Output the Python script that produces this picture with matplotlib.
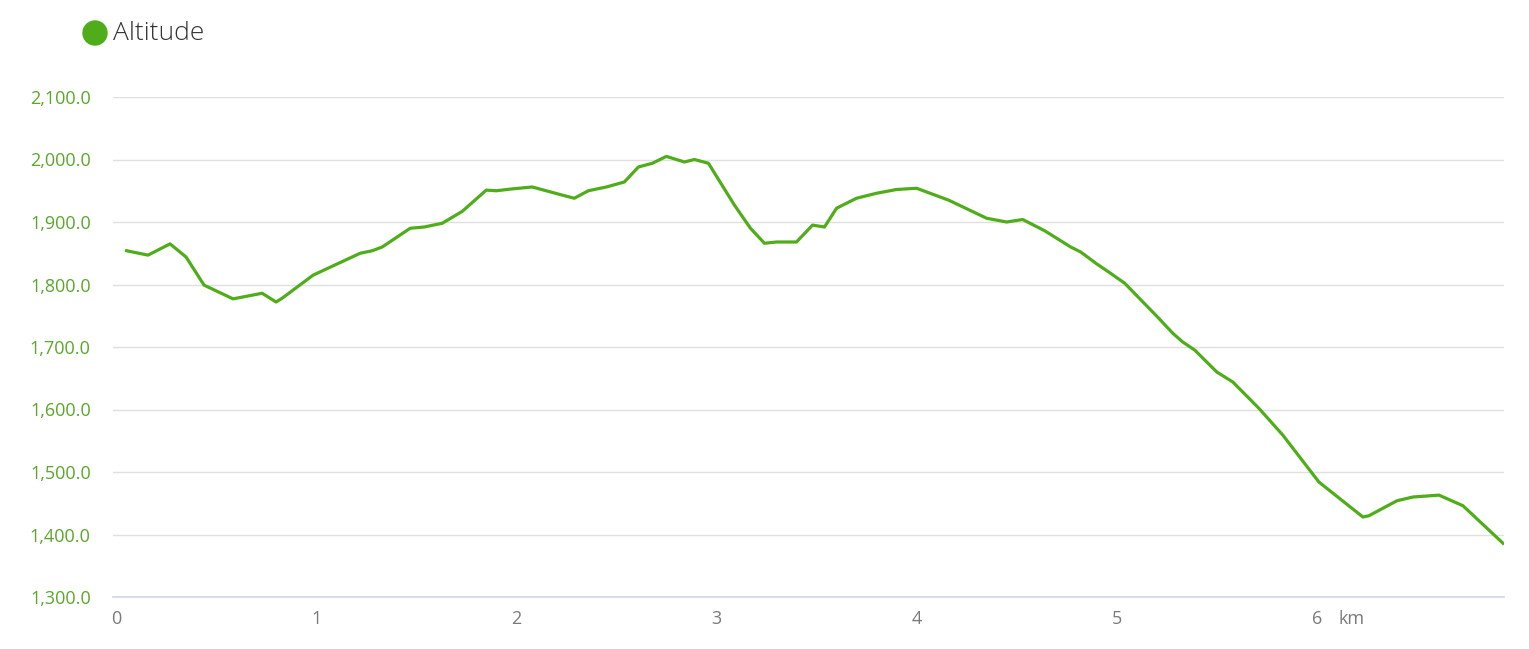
import matplotlib
matplotlib.use("Agg")
import matplotlib.pyplot as plt
from matplotlib.ticker import FuncFormatter

# Data (distance km, altitude m)
distance_km = [0.053, 0.16, 0.27, 0.35, 0.44, 0.585, 0.73, 0.80, 0.83, 0.985, 1.22, 1.28, 1.33,
               1.47, 1.54, 1.63, 1.73, 1.85, 1.90, 1.98, 2.08, 2.23, 2.29, 2.36, 2.45, 2.54,
               2.61, 2.68, 2.75, 2.84, 2.89, 2.96, 3.09, 3.17, 3.24, 3.30, 3.40, 3.48, 3.54,
               3.60, 3.70, 3.80, 3.90, 4.00, 4.16, 4.35, 4.45, 4.53, 4.64, 4.77, 4.82, 4.90,
               4.96, 5.04, 5.21, 5.28, 5.33, 5.39, 5.50, 5.58, 5.71, 5.83, 6.01, 6.23, 6.26,
               6.40, 6.48, 6.61, 6.73, 6.77, 6.93]
altitude_m = [1854, 1847, 1865, 1844, 1799, 1777, 1786, 1772, 1778, 1815, 1850, 1854, 1860,
              1890, 1892, 1898, 1917, 1951, 1950, 1953, 1956, 1943, 1938, 1950, 1956, 1964,
              1988, 1994, 2005, 1996, 2000, 1994, 1927, 1890, 1866, 1868, 1868, 1895, 1892,
              1922, 1938, 1946, 1952, 1954, 1935, 1906, 1900, 1904, 1886, 1860, 1852, 1833,
              1820, 1802, 1746, 1722, 1708, 1695, 1660, 1644, 1602, 1559, 1484, 1428, 1430,
              1454, 1460, 1463, 1446, 1434, 1386]
y_ticks = [1300, 1400, 1500, 1600, 1700, 1800, 1900, 2000, 2100]
x_ticks = [0, 1, 2, 3, 4, 5, 6]
series_name = "Altitude"

GREEN = "#4fad1a"
plt.rcParams['font.family'] = ['Open Sans', 'DejaVu Sans']

fig = plt.figure(figsize=(15.29, 6.49), dpi=100)
ax = fig.add_axes([113/1529, 1-597/649, (1504-113)/1529, 500/649])

ax.plot(distance_km, altitude_m, color=GREEN, lw=2.3, solid_joinstyle='round', zorder=3)

ax.set_xlim(-0.015, 6.935)
ax.set_ylim(1300, 2100)
ax.set_yticks(y_ticks)
ax.set_xticks(x_ticks)
ax.yaxis.set_major_formatter(FuncFormatter(lambda v, p: f"{v:,.1f}"))
ax.grid(axis='y', color='#e0e0e0', lw=1.0, zorder=0)
for s in ['top', 'right', 'left']:
    ax.spines[s].set_visible(False)
ax.spines['bottom'].set_color('#ccd6eb')
ax.spines['bottom'].set_linewidth(1.2)
ax.tick_params(axis='y', length=0, pad=16, labelsize=13, labelcolor='#5aa82a')
ax.tick_params(axis='x', length=0, pad=9, labelsize=13, labelcolor='#7a7a7a')
km_label = ax.text(6.11, 0, "km", transform=ax.get_xaxis_transform(), color='#7a7a7a',
                   fontsize=13, ha='left', va='top')
from matplotlib.transforms import offset_copy
km_label.set_transform(offset_copy(ax.get_xaxis_transform(), fig=fig, x=0, y=-9, units='points'))

# legend
fig.patches.append(matplotlib.patches.Ellipse((95/1529, 1-33/649), 24/1529, 24/649,
                                              transform=fig.transFigure, color=GREEN))
fig.text(113/1529, 1-34/649, series_name, fontsize=19, color='#333333', fontweight='light',
         ha='left', va='center')

fig.savefig("out.png", dpi=100)
